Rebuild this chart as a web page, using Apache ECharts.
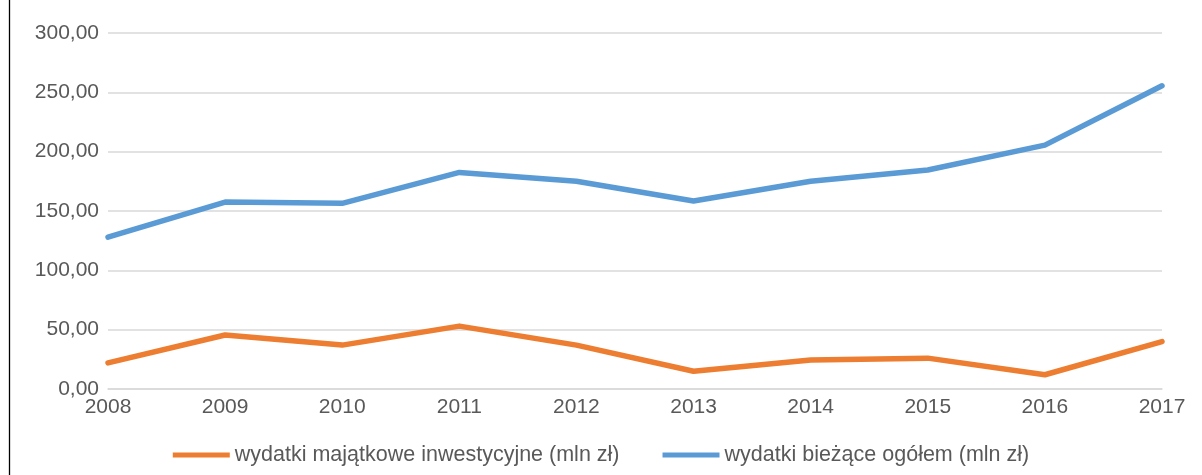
<!DOCTYPE html>
<html>
<head>
<meta charset="utf-8">
<script src="https://cdn.jsdelivr.net/npm/echarts@6/dist/echarts.min.js"></script>
<style>
  html, body { margin: 0; padding: 0; background: #fff; }
  #chart { width: 1202px; height: 475px; }
</style>
</head>
<body>
<div id="chart"></div>
<script>
// Years on the category axis
const years = ['2008', '2009', '2010', '2011', '2012', '2013', '2014', '2015', '2016', '2017'];

// Capital investment spending (mln zł)
const investmentSpending = [22, 45.5, 37, 53, 37, 15, 24.5, 26, 12, 40];

// Total current spending (mln zł)
const currentSpending = [128, 157.5, 156.5, 182.5, 175, 158.5, 175, 184.5, 205.5, 255.5];

const seriesNames = ['wydatki majątkowe inwestycyjne (mln zł)', 'wydatki bieżące ogółem (mln zł)'];

const fontFamily = '"Liberation Sans", Arial, sans-serif';
const textColor = '#595959';

const chart = echarts.init(document.getElementById('chart'), null, { renderer: 'canvas' });

chart.setOption({
  animation: false,
  backgroundColor: '#ffffff',
  textStyle: { fontFamily: fontFamily, color: textColor },
  graphic: [{
    type: 'line',
    shape: { x1: 9.5, y1: 0, x2: 9.5, y2: 475 },
    style: { stroke: '#000000', lineWidth: 1.3 },
    silent: true
  }],
  grid: { left: 108, right: 40, top: 33, bottom: 86, containLabel: false },
  legend: {
    data: seriesNames,
    top: 439,
    left: 'center',
    icon: 'rect',
    itemWidth: 57,
    itemHeight: 5,
    itemGap: 43,
    textStyle: { fontFamily: fontFamily, fontSize: 21.5, color: textColor }
  },
  xAxis: {
    type: 'category',
    data: years,
    boundaryGap: false,
    axisLine: { show: true, lineStyle: { color: '#d9d9d9', width: 1.5 } },
    axisTick: { show: false },
    axisLabel: { fontFamily: fontFamily, fontSize: 21, color: textColor, margin: 8 },
    splitLine: { show: false }
  },
  yAxis: {
    type: 'value',
    min: 0,
    max: 300,
    interval: 50,
    axisLine: { show: false },
    axisTick: { show: false },
    axisLabel: {
      fontFamily: fontFamily,
      fontSize: 21,
      color: textColor,
      margin: 9,
      formatter: function (v) { return v.toFixed(2).replace('.', ','); }
    },
    splitLine: { lineStyle: { color: '#d9d9d9', width: 1.5 } }
  },
  series: [
    {
      name: seriesNames[0],
      type: 'line',
      data: investmentSpending,
      symbol: 'none',
      lineStyle: { color: '#ED7D31', width: 5.5, join: 'round', cap: 'round' },
      itemStyle: { color: '#ED7D31' }
    },
    {
      name: seriesNames[1],
      type: 'line',
      data: currentSpending,
      symbol: 'none',
      lineStyle: { color: '#5B9BD5', width: 5.5, join: 'round', cap: 'round' },
      itemStyle: { color: '#5B9BD5' }
    }
  ]
});
</script>
</body>
</html>
